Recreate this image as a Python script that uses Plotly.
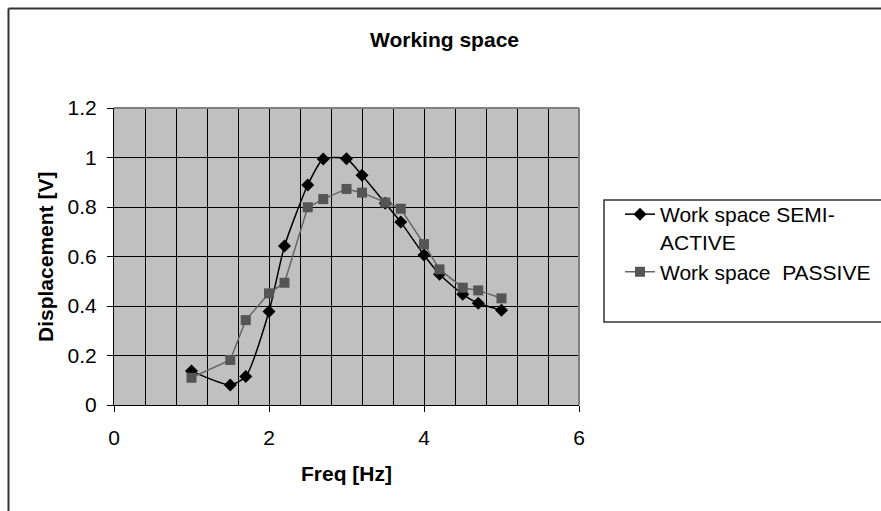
import plotly.graph_objects as go

freq_semi = [1.0, 1.5, 1.7, 2.0, 2.2, 2.5, 2.7, 3.0, 3.2, 3.5, 3.7, 4.0, 4.2, 4.5, 4.7, 5.0]
disp_semi = [0.137, 0.081, 0.115, 0.378, 0.642, 0.889, 0.994, 0.995, 0.928, 0.815, 0.739, 0.606, 0.528, 0.447, 0.411, 0.383]

freq_pass = [1.0, 1.5, 1.7, 2.0, 2.2, 2.5, 2.7, 3.0, 3.2, 3.5, 3.7, 4.0, 4.2, 4.5, 4.7, 5.0]
disp_pass = [0.110, 0.182, 0.343, 0.451, 0.494, 0.799, 0.832, 0.873, 0.858, 0.818, 0.793, 0.650, 0.548, 0.474, 0.463, 0.431]

name_semi = "Work space SEMI-<br>ACTIVE"
name_pass = "Work space  PASSIVE"

W, H = 881, 511
L, R, T, B = 114, 579, 108, 405


def px(x):
    return (x - L) / (R - L)


def py(y):
    return (B - y) / (B - T)


FONT = "Liberation Sans, Arial, sans-serif"

fig = go.Figure()
fig.add_trace(go.Scatter(
    x=freq_semi, y=disp_semi, name=name_semi, mode="lines+markers",
    line=dict(color="black", width=1.5, shape="spline", smoothing=0.6),
    marker=dict(symbol="diamond", size=10, color="black"),
))
fig.add_trace(go.Scatter(
    x=freq_pass, y=disp_pass, name=name_pass, mode="lines+markers",
    line=dict(color="#666666", width=1.5),
    marker=dict(symbol="square", size=10, color="#555555"),
))

fig.update_layout(
    width=W, height=H,
    margin=dict(l=L, r=W - R, t=T, b=H - B, autoexpand=False),
    paper_bgcolor="white",
    plot_bgcolor="#C0C0C0",
    font=dict(family=FONT, size=21, color="black"),
    showlegend=True,
    legend=dict(
        x=px(620), y=py(194), xanchor="left", yanchor="top",
        bgcolor="rgba(0,0,0,0)", borderwidth=0,
        font=dict(family=FONT, size=21, color="black"),
        valign="top", tracegroupgap=0,
    ),
    xaxis=dict(
        range=[0, 6], dtick=2, tick0=0,
        showgrid=True, gridcolor="black", gridwidth=1,
        minor=dict(dtick=0.4, tick0=0, showgrid=True, gridcolor="black", gridwidth=1, ticks=""),
        ticks="outside", ticklen=6, tickcolor="black",
        showline=True, linecolor="black", linewidth=1,
        zeroline=False, fixedrange=True, automargin=False,
        tickfont=dict(size=21), ticklabelstandoff=8,
    ),
    yaxis=dict(
        range=[0, 1.2], dtick=0.2, tick0=0,
        showgrid=True, gridcolor="black", gridwidth=1,
        ticks="outside", ticklen=6, tickcolor="black",
        showline=True, linecolor="black", linewidth=1,
        zeroline=False, fixedrange=True, automargin=False,
        tickfont=dict(size=21), ticklabelstandoff=6,
    ),
    annotations=[
        dict(text="<b>Working space</b>", x=px(444), y=py(40), xref="paper", yref="paper",
             showarrow=False, font=dict(size=21), xanchor="center", yanchor="middle"),
        dict(text="<b>Displacement [V]</b>", x=px(45), y=py(257), xref="paper", yref="paper",
             showarrow=False, textangle=-90, font=dict(size=21), xanchor="center", yanchor="middle"),
        dict(text="<b>Freq [Hz]</b>", x=px(346), y=py(473), xref="paper", yref="paper",
             showarrow=False, font=dict(size=21), xanchor="center", yanchor="middle"),
    ],
    shapes=[
        dict(type="line", xref="paper", yref="paper", x0=0, x1=1, y0=1, y1=1,
             line=dict(color="#808080", width=2)),
        dict(type="line", xref="paper", yref="paper", x0=1, x1=1, y0=0, y1=1,
             line=dict(color="#808080", width=2)),
        dict(type="line", xref="paper", yref="paper", x0=px(8.5), x1=px(8.5), y0=py(520), y1=py(8.5),
             line=dict(color="#333333", width=2)),
        dict(type="line", xref="paper", yref="paper", x0=px(8.5), x1=px(900), y0=py(8.5), y1=py(8.5),
             line=dict(color="#333333", width=2)),
        dict(type="rect", xref="paper", yref="paper", x0=px(604), x1=px(900), y0=py(322), y1=py(200),
             line=dict(color="#333333", width=1.5), fillcolor="rgba(0,0,0,0)"),
    ],
)

fig.write_html("out.html")
